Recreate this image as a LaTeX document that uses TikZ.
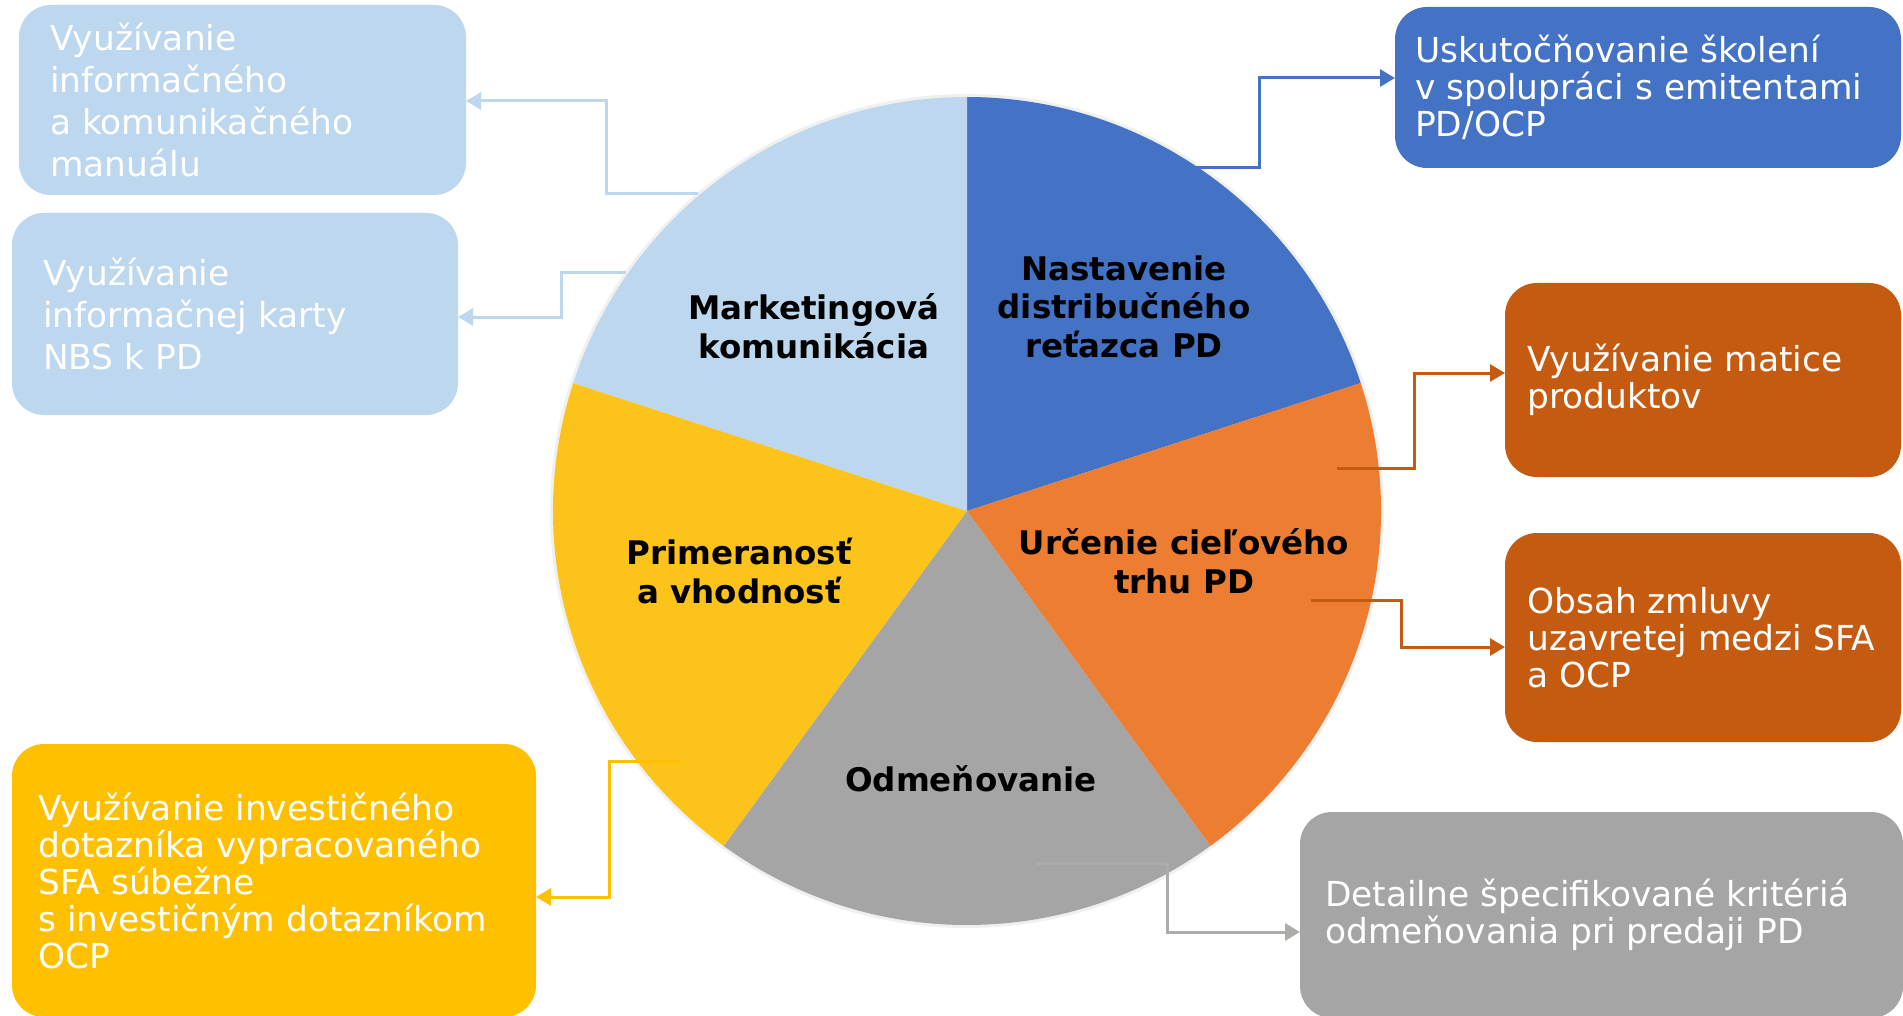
\documentclass[tikz,border=0pt]{standalone}
\usepackage{fontspec}
\setmainfont{DejaVu Sans}
\usetikzlibrary{arrows.meta}
\definecolor{lblue}{HTML}{BDD7EE}
\definecolor{dblue}{HTML}{4472C4}
\definecolor{orgpie}{HTML}{ED7D31}
\definecolor{orgbox}{HTML}{C55A11}
\definecolor{grpie}{HTML}{A5A5A5}
\definecolor{grline}{HTML}{AFABAB}
\definecolor{ylpie}{HTML}{FCC41A}
\definecolor{ylbox}{HTML}{FFC000}
\tikzset{
  card/.style={rounded corners=32pt, inner sep=0pt, outer sep=0pt, anchor=north west},
  cardtext/.style={anchor=west, inner sep=0pt, align=left, text=white, font=\fontsize{34.4}{37}\selectfont},
  widetext/.style={cardtext, font=\fontsize{34.4}{41.7}\selectfont},
  lab/.style={anchor=base, align=center, inner sep=0pt, font=\fontsize{32.5}{38.5}\selectfont\bfseries},
  conn/.style={line width=3pt, -{Triangle[length=15pt,width=17pt]}},
}
\begin{document}
\begin{tikzpicture}[x=1pt,y=1pt]
\useasboundingbox (0,0) rectangle (1903,-1016);
\fill[white] (0,0) rectangle (1903,-1016);
% pie
\coordinate (pc) at (967,-511);
\fill[black!6] (pc) circle (417);
\fill[dblue]  (pc) -- ++(90:414)  arc[start angle=90,  end angle=18,   radius=414] -- cycle;
\fill[orgpie] (pc) -- ++(18:414)  arc[start angle=18,  end angle=-54,  radius=414] -- cycle;
\fill[grpie]  (pc) -- ++(-54:414) arc[start angle=-54, end angle=-126, radius=414] -- cycle;
\fill[ylpie]  (pc) -- ++(-126:414) arc[start angle=-126,end angle=-198, radius=414] -- cycle;
\fill[lblue]  (pc) -- ++(162:414) arc[start angle=162, end angle=90,   radius=414] -- cycle;
% pie labels (anchor at baseline of last line)
\node[lab] (l1) at (814,-358) {Marketingová\\komunikácia};
\node[lab] (l2) at (1124,-357) {Nastavenie\\distribučného\\reťazca PD};
\node[lab] (l3) at (1184,-593) {Určenie cieľového\\trhu PD};
\node[lab] (l4) at (739,-603) {Primeranosť\\a vhodnosť};
\node[lab] (l5) at (971,-791) {Odmeňovanie};
% boxes
\node[card, fill=lblue, minimum width=447pt, minimum height=190pt] (b1) at (19,-5) {};
\node[widetext] (t1) at ([xshift=31pt]b1.west) {Využívanie\\informačného\\a komunikačného\\manuálu};
\node[card, fill=lblue, minimum width=446pt, minimum height=202pt] (b2) at (12,-213) {};
\node[widetext] (t2) at ([xshift=31pt]b2.west) {Využívanie\\informačnej karty\\NBS k PD};
\node[card, fill=dblue, minimum width=506pt, minimum height=161pt] (b3) at (1395,-7) {};
\node[cardtext] (t3) at ([xshift=20pt]b3.west) {Uskutočňovanie školení\\v spolupráci s emitentami\\PD/OCP};
\node[card, fill=orgbox, minimum width=396pt, minimum height=194pt] (b4) at (1505,-283) {};
\node[cardtext] (t4) at ([xshift=22pt]b4.west) {Využívanie matice\\produktov};
\node[card, fill=orgbox, minimum width=396pt, minimum height=209pt] (b5) at (1505,-533) {};
\node[cardtext] (t5) at ([xshift=22pt]b5.west) {Obsah zmluvy\\uzavretej medzi SFA\\a OCP};
\node[card, fill=grpie, minimum width=603pt, minimum height=206pt] (b6) at (1300,-812) {};
\node[cardtext] (t6) at ([xshift=25pt]b6.west) {Detailne špecifikované kritériá\\odmeňovania pri predaji PD};
\node[card, fill=ylbox, minimum width=524pt, minimum height=273pt] (b7) at (12,-744) {};
\node[cardtext] (t7) at ([xshift=26pt]b7.west) {Využívanie investičného\\dotazníka vypracovaného\\SFA súbežne\\s investičným dotazníkom\\OCP};
% connectors
\coordinate (s1) at (698,-194); \coordinate (k1) at (606,-101);
\draw[conn, lblue] (s1) -| (k1) -- (k1 -| b1.east);
\coordinate (s2) at (626,-273); \coordinate (k2) at (561,-317);
\draw[conn, lblue] (s2) -| (k2) -- (k2 -| b2.east);
\coordinate (s3) at (1195,-168); \coordinate (k3) at (1259,-78);
\draw[conn, dblue] (s3) -| (k3) -- (k3 -| b3.west);
\coordinate (s4) at (1337,-468); \coordinate (k4) at (1414,-373);
\draw[conn, orgbox] (s4) -| (k4) -- (k4 -| b4.west);
\coordinate (s5) at (1311,-600); \coordinate (k5) at (1401,-647);
\draw[conn, orgbox] (s5) -| (k5) -- (k5 -| b5.west);
\coordinate (s6) at (1036,-863); \coordinate (k6) at (1167,-932);
\draw[conn, grline] (s6) -| (k6) -- (k6 -| b6.west);
\coordinate (s7) at (681,-761); \coordinate (k7) at (609,-897);
\draw[conn, ylbox] (s7) -| (k7) -- (k7 -| b7.east);
\end{tikzpicture}
\end{document}
